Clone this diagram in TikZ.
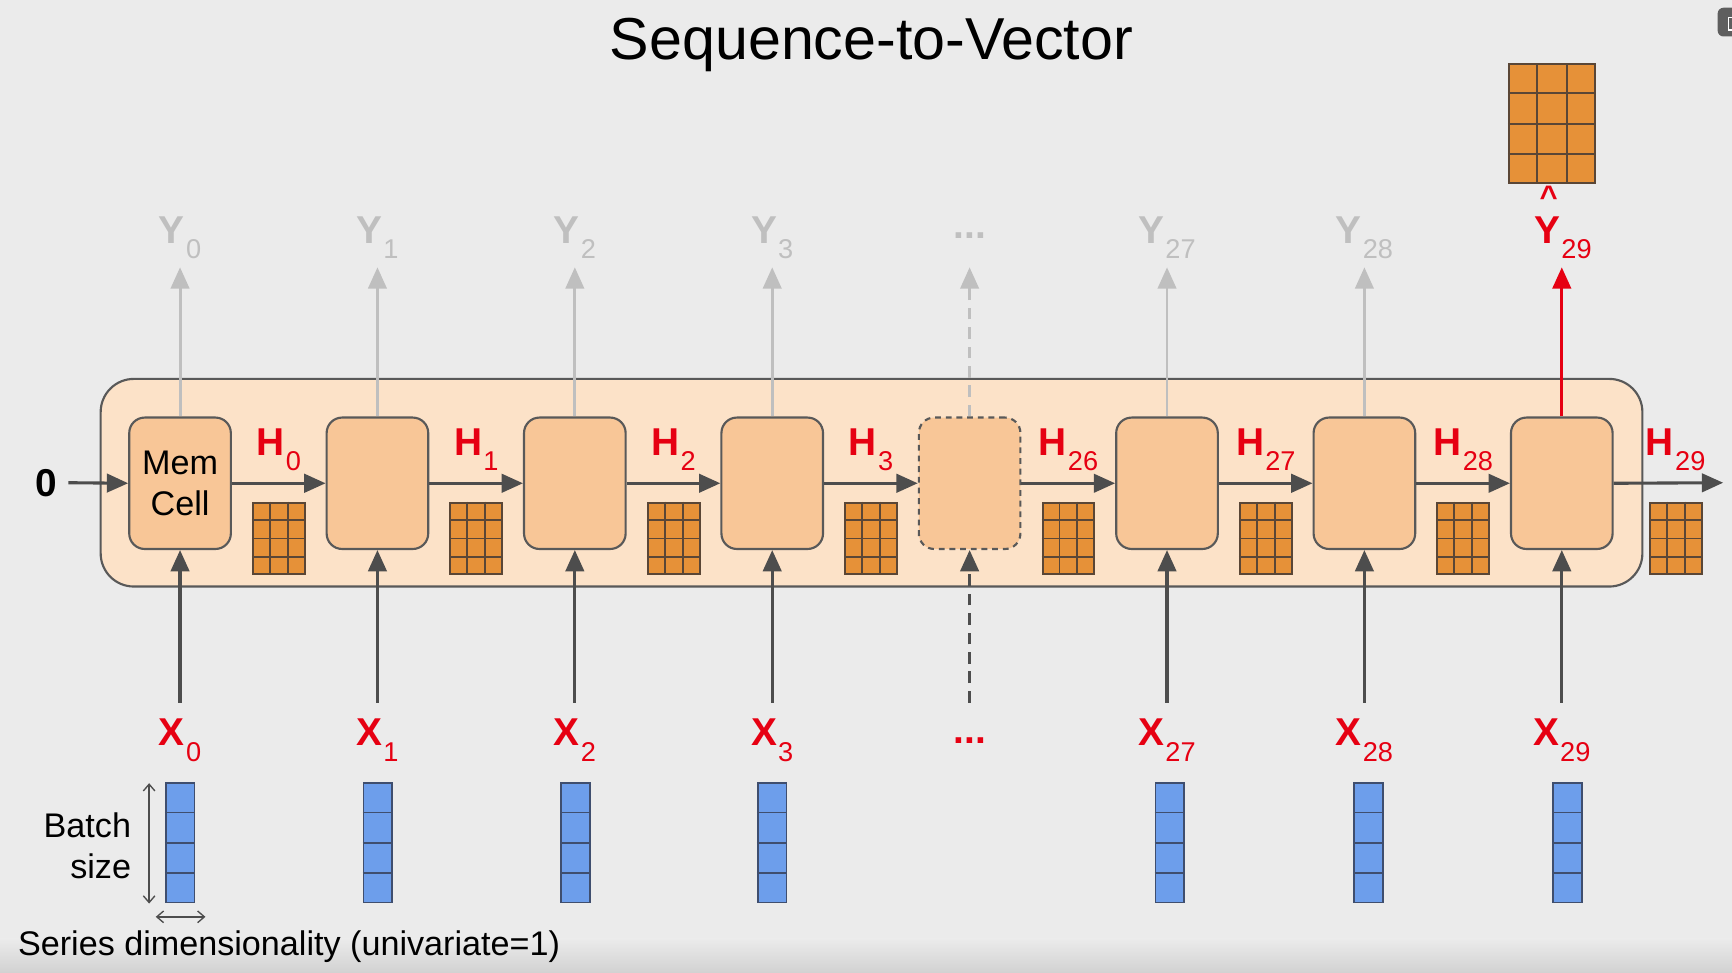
\documentclass[tikz,border=0pt]{standalone}
\usepackage{fontspec}
\setmainfont{Liberation Sans}
\usetikzlibrary{arrows.meta,calc}
\definecolor{bg}{HTML}{EBEBEB}
\definecolor{bgdark}{HTML}{D2D2D2}
\definecolor{layerfill}{HTML}{FCE2C8}
\definecolor{cellfill}{HTML}{F8C697}
\definecolor{edge}{HTML}{595959}
\definecolor{gridfill}{HTML}{E69138}
\definecolor{gridedge}{HTML}{5A4636}
\definecolor{vecfill}{HTML}{6D9EEB}
\definecolor{vecedge}{HTML}{3F4E6E}
\definecolor{lred}{HTML}{E60012}
\definecolor{lgray}{HTML}{BFBFBF}
\definecolor{dark}{HTML}{4D4D4D}
\definecolor{icon}{HTML}{5E5E5E}

\newcommand\sublab[2]{\fontsize{20}{24}\selectfont\bfseries #1\kern0.6pt\raisebox{-8pt}{\fontsize{14}{14}\mdseries\selectfont #2}}
\newcommand\gridlines[1]{%
  \foreach \k in {1,2}{\draw[draw=gridedge, line width=1pt] ($(#1.north west)!\k/3!(#1.north east)$) -- ($(#1.south west)!\k/3!(#1.south east)$);}
  \foreach \k in {1,2,3}{\draw[draw=gridedge, line width=1pt] ($(#1.north west)!\k/4!(#1.south west)$) -- ($(#1.north east)!\k/4!(#1.south east)$);}}
\newcommand\veclines[1]{%
  \foreach \k in {1,2,3}{\draw[draw=vecedge, line width=0.9pt] ($(#1.north west)!\k/4!(#1.south west)$) -- ($(#1.north east)!\k/4!(#1.south east)$);}}

\tikzset{
  layerbox/.style={draw=edge, line width=1.1pt, fill=layerfill, rounded corners=0.6cm, minimum width=27.92cm, minimum height=3.76cm, inner sep=0},
  cellbox/.style={draw=edge, line width=1.1pt, fill=cellfill, rounded corners=0.28cm, minimum width=1.84cm, minimum height=2.38cm, inner sep=0},
  ghostbox/.style={cellbox, dash pattern=on 3pt off 2.5pt},
  hgrid/.style={draw=gridedge, line width=1pt, fill=gridfill, minimum width=0.94cm, minimum height=1.3cm, inner sep=0},
  ygrid/.style={hgrid, minimum width=1.56cm, minimum height=2.16cm},
  vecbox/.style={draw=vecedge, line width=0.9pt, fill=vecfill, minimum width=0.52cm, minimum height=2.16cm, inner sep=0},
  arrowhd/.style={-{Triangle[length=11pt,width=9.5pt]}},
  darr/.style={draw=dark, line width=1.6pt, arrowhd},
  garr/.style={draw=lgray, line width=1.5pt, arrowhd},
  rarr/.style={draw=lred, line width=1.6pt, arrowhd},
  dashline/.style={dash pattern=on 6pt off 4pt},
  redlab/.style={text=lred, inner sep=0, anchor=base},
  graylab/.style={text=lgray, inner sep=0, anchor=base},
  body/.style={font=\fontsize{17.6}{21}\selectfont},
  thinarr/.style={draw=dark, line width=0.7pt, {Straight Barb[length=3.5pt,width=6pt]}-{Straight Barb[length=3.5pt,width=6pt]}},
}

\begin{document}
\begin{tikzpicture}[x=0.02cm,y=-0.02cm]
\fill[bg] (0,0) rectangle (1568,880);
\shade[top color=bg, bottom color=bgdark] (0,850) rectangle (1568,880);
\useasboundingbox (0,0) rectangle (1568,880);

% window icon (cut at the edge)
\begin{scope}
  \clip (0,0) rectangle (1568,880);
  \fill[icon, rounded corners=3pt] (1555,7) rectangle (1590,33);
  \draw[white, line width=0.8pt] (1565,16) rectangle (1578,27);
\end{scope}

% title
\node[anchor=base, inner sep=0, font=\fontsize{30.5}{36}\selectfont] (title) at (789,54) {Sequence-to-Vector};

% layer
\node[layerbox] (layer) at (789,437) {};

% cells
\node[cellbox, body, align=center] (c0) at (163,437.5) {Mem\\Cell};
\foreach \i in {1,2,3,5,6,7}{
  \pgfmathsetmacro\cx{163+178.7*\i}
  \node[cellbox] (c\i) at (\cx,437.5) {};
}
\node[ghostbox] (c4) at (877.8,437.5) {};

% input zero
\node[inner sep=0, font=\bfseries\fontsize{20}{24}\selectfont] (zero) at (42,437) {0};
\coordinate (zs) at (62,437);
\draw[darr] (zs) -- (c0.west);

% hidden-state arrows
\foreach \i/\j in {0/1,1/2,2/3,3/4,4/5,5/6,6/7}{
  \draw[darr] (c\i.east) -- (c\j.west);
}
\coordinate (hend) at (1560,437);
\draw[darr] (c7.east) -- (hend);

% H labels and grids
\foreach \i/\s in {0/0,1/1,2/2,3/3,4/26,5/27,6/28}{
  \pgfmathsetmacro\gx{163+178.7*\i+89.5}
  \node[hgrid] (g\i) at (\gx,487.5) {};
  \gridlines{g\i}
  \node[redlab] (h\i) at (\gx,412) {\sublab{H}{\s}};
}
\node[hgrid] (g7) at (1517,487.5) {};
\gridlines{g7}
\node[redlab] (h7) at (1517,412) {\sublab{H}{29}};

% outputs
\foreach \i/\s in {0/0,1/1,2/2,3/3,5/27,6/28}{
  \pgfmathsetmacro\cx{163+178.7*\i}
  \coordinate (yt\i) at (\cx,242);
  \draw[garr] (c\i.north) -- (yt\i);
  \node[graylab] (y\i) at (\cx,220) {\sublab{Y}{\s}};
}
\coordinate (yt4) at (877.8,242);
\draw[garr, dashline] (c4.north) -- (yt4);
\node[graylab, font=\bfseries\fontsize{20}{24}\selectfont] (y4) at (877.8,216) {...};
\coordinate (yt7) at (1413.9,242);
\draw[rarr] (c7.north) -- (yt7);
\node[redlab] (y7) at (1415,220) {\sublab{Y}{29}};
\node[redlab, font=\bfseries\fontsize{16}{16}\selectfont] (hat) at (1402,188) {\textasciicircum};
\node[ygrid] (out) at (1405,112) {};
\gridlines{out}

% inputs
\foreach \i/\s in {0/0,1/1,2/2,3/3,5/27,6/28,7/29}{
  \pgfmathsetmacro\cx{163+178.7*\i}
  \coordinate (xs\i) at (\cx,636);
  \draw[darr] (xs\i) -- (c\i.south);
  \node[redlab] (x\i) at (\cx,675) {\sublab{X}{\s}};
}
\coordinate (xs4) at (877.8,636);
\draw[darr, dashline] (xs4) -- (c4.south);
\node[redlab, font=\bfseries\fontsize{20}{24}\selectfont] (x4) at (877.8,673) {...};

% batch vectors
\foreach \i/\vx in {0/163,1/342,2/521,3/699,5/1059,6/1239,7/1419}{
  \node[vecbox] (v\i) at (\vx,763) {};
  \veclines{v\i}
}

% batch size annotations
\coordinate (bt) at (135,709);
\coordinate (bb) at (135,818);
\draw[thinarr] (bt) -- (bb);
\coordinate (dl) at (141,830);
\coordinate (dr) at (186,830);
\draw[thinarr] (dl) -- (dr);
\node[body, align=right, anchor=east, inner sep=0] (batch) at (119,766) {Batch\\size};
\node[body, anchor=west, inner sep=0] (series) at (16,857) {Series dimensionality (univariate=1)};
\end{tikzpicture}
\end{document}
